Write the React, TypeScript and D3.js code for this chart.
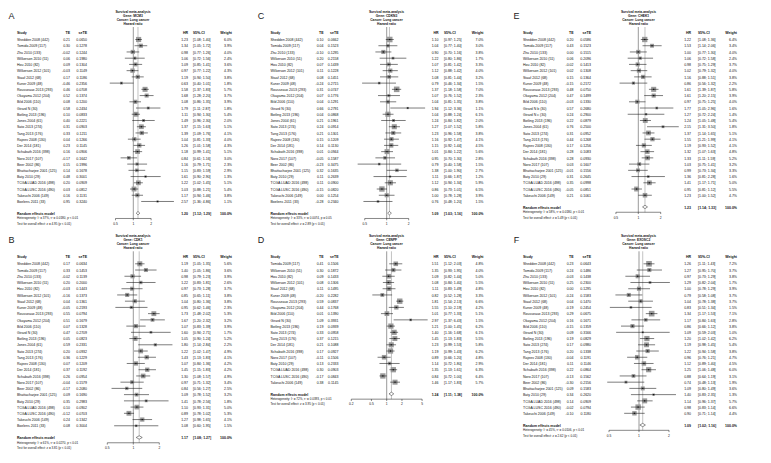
import React from "react";
import * as d3 from "d3";

// ---------- DATA ----------
const studiesABC = ["Shedden 2008 (442)", "Tomida 2009 (117)", "Zhu 2010 (133)", "Wilkerson 2010 (51)", "Hou 2010 (82)", "Wilkerson 2012 (101)", "Staaf 2012 (68)", "Kuner 2009 (48)", "Rousseaux 2013 (293)", "Okayama 2012 (204)", "Bild 2006 (110)", "Girard N (30)", "Botling 2013 (196)", "Jones 2004 (61)", "Sato 2013 (274)", "Tang 2013 (176)", "Rajeev 2008 (130)", "Der 2014 (181)", "Schabath 2016 (398)", "Noro 2017 (107)", "Beer 2002 (86)", "Bhattacharjee 2001 (125)", "Baty 2010 (29)", "TCGA LUAD 2016 (498)", "TCGA LUSC 2016 (490)", "Takeuchi 2006 (149)", "Boelens 2011 (33)"];

const teA = [0.21, 0.30, -0.02, 0.06, 0.09, -0.03, 0.17, -0.46, 0.46, 0.52, 0.08, 0.58, 0.10, 0.40, 0.31, 0.33, 0.04, 0.23, 0.16, -0.17, 0.15, 0.14, 0.48, 0.20, 0.03, 0.16, 0.95];
const seA = [0.0650, 0.1278, 0.1244, 0.1980, 0.1304, 0.1149, 0.1186, 0.2356, 0.0708, 0.1374, 0.1200, 0.2434, 0.0833, 0.2221, 0.0903, 0.1211, 0.1266, 0.1145, 0.0906, 0.1642, 0.1996, 0.1678, 0.3001, 0.0909, 0.0812, 0.1131, 0.3240];
const hrA = [1.23, 1.34, 0.98, 1.06, 1.09, 0.97, 1.19, 0.63, 1.58, 1.68, 1.08, 1.79, 1.11, 1.49, 1.37, 1.39, 1.04, 1.26, 1.18, 0.84, 1.16, 1.15, 1.61, 1.22, 1.03, 1.17, 2.57];
const loA = [1.08, 1.05, 0.77, 0.72, 0.85, 0.77, 0.94, 0.40, 1.37, 1.28, 0.86, 1.11, 0.94, 0.96, 1.15, 1.09, 0.81, 1.01, 0.99, 0.61, 0.79, 0.83, 0.90, 1.02, 0.88, 0.94, 1.36];
const hiA = [1.40, 1.72, 1.26, 1.56, 1.41, 1.22, 1.50, 1.01, 1.83, 2.20, 1.35, 2.87, 1.30, 2.30, 1.63, 1.76, 1.33, 1.58, 1.41, 1.16, 1.71, 1.59, 2.90, 1.45, 1.21, 1.46, 4.86];
const wA = [6.0, 3.9, 4.0, 2.4, 3.6, 4.3, 3.8, 1.8, 5.7, 3.7, 3.9, 1.8, 5.4, 2.0, 5.1, 4.1, 4.0, 4.3, 5.1, 3.0, 2.3, 2.9, 1.3, 5.1, 5.4, 3.8, 1.1];

const teB = [0.17, 0.33, -0.02, 0.20, -0.03, -0.16, 0.04, -0.05, 0.55, 0.51, 0.07, 0.47, 0.05, 0.59, 0.20, 0.36, 0.07, 0.37, 0.26, -0.04, -0.17, 0.09, 0.35, 0.10, -0.12, 0.24, 0.08];
const seB = [0.0634, 0.1453, 0.1139, 0.2000, 0.1443, 0.1373, 0.1361, 0.2193, 0.0794, 0.1679, 0.1328, 0.2709, 0.0823, 0.2331, 0.0932, 0.1229, 0.1209, 0.1192, 0.0954, 0.1579, 0.2080, 0.1690, 0.2983, 0.0902, 0.0703, 0.1342, 0.3004];
const hrB = [1.19, 1.40, 0.98, 1.22, 0.97, 0.85, 1.04, 0.95, 1.73, 1.67, 1.07, 1.60, 1.05, 1.80, 1.22, 1.43, 1.07, 1.45, 1.30, 0.97, 0.84, 1.09, 1.41, 1.10, 0.89, 1.27, 1.08];
const loB = [1.05, 1.05, 0.79, 0.83, 0.73, 0.65, 0.80, 0.62, 1.48, 1.20, 0.83, 0.94, 0.90, 1.14, 1.02, 1.13, 0.84, 1.15, 1.08, 0.71, 0.56, 0.78, 0.78, 0.93, 0.78, 0.98, 0.60];
const hiB = [1.35, 1.86, 1.23, 1.81, 1.28, 1.11, 1.36, 1.46, 2.02, 2.32, 1.39, 2.71, 1.24, 2.84, 1.47, 1.83, 1.36, 1.83, 1.57, 1.32, 1.27, 1.52, 2.56, 1.31, 1.02, 1.65, 1.95];
const wB = [5.6, 3.6, 3.9, 2.6, 3.7, 3.8, 3.8, 2.3, 5.3, 3.2, 3.9, 1.7, 5.2, 2.2, 4.9, 4.1, 4.2, 4.2, 4.9, 3.4, 2.5, 3.2, 1.8, 5.0, 5.3, 4.1, 1.5];

const teC = [0.10, 0.04, -0.10, 0.20, 0.07, 0.11, 0.08, -0.24, 0.31, 0.07, 0.04, 0.66, 0.04, 0.21, 0.24, 0.21, 0.15, 0.14, 0.01, -0.05, -0.23, 0.32, 0.11, 0.11, -0.15, 0.00, -0.28];
const seC = [0.0662, 0.1523, 0.1295, 0.2158, 0.1439, 0.1228, 0.1451, 0.2715, 0.0747, 0.1776, 0.1291, 0.2791, 0.0868, 0.1961, 0.0914, 0.1301, 0.1209, 0.1130, 0.0944, 0.1587, 0.3475, 0.1635, 0.2639, 0.0900, 0.0820, 0.1254, 0.2340];
const hrC = [1.10, 1.04, 0.90, 1.22, 1.07, 1.12, 1.08, 0.79, 1.37, 1.07, 1.04, 1.94, 1.04, 1.24, 1.27, 1.23, 1.16, 1.15, 1.01, 0.95, 0.79, 1.38, 1.11, 1.12, 0.86, 1.00, 0.76];
const loC = [0.97, 0.77, 0.70, 0.80, 0.81, 0.88, 0.81, 0.46, 1.18, 0.76, 0.81, 1.12, 0.88, 0.84, 1.07, 0.96, 0.92, 0.92, 0.84, 0.70, 0.40, 1.00, 0.66, 0.94, 0.73, 0.78, 0.48];
const hiC = [1.25, 1.40, 1.16, 1.86, 1.42, 1.42, 1.44, 1.34, 1.58, 1.52, 1.35, 3.36, 1.24, 1.82, 1.52, 1.58, 1.47, 1.44, 1.22, 1.30, 1.58, 1.90, 1.87, 1.34, 1.01, 1.28, 1.20];
const wC = [7.0, 3.0, 3.8, 1.7, 3.3, 4.0, 3.2, 1.5, 7.0, 2.3, 3.8, 1.1, 6.1, 2.0, 5.8, 3.8, 4.1, 4.5, 5.6, 2.8, 1.5, 2.7, 1.2, 5.9, 6.5, 3.9, 1.5];

const studiesD = ["Tomida 2009 (117)", "Wilkerson 2010 (51)", "Hou 2010 (82)", "Wilkerson 2012 (101)", "Staaf 2012 (68)", "Kuner 2009 (48)", "Rousseaux 2013 (293)", "Okayama 2012 (204)", "Bild 2006 (110)", "Girard N (30)", "Botling 2013 (196)", "Sato 2013 (274)", "Tang 2013 (176)", "Der 2014 (181)", "Schabath 2016 (398)", "Noro 2017 (107)", "Baty 2010 (29)", "TCGA LUAD 2016 (498)", "TCGA LUSC 2016 (490)", "Takeuchi 2006 (149)"];
const teD = [0.41, 0.30, 0.09, 0.08, 0.11, -0.20, 0.59, 0.44, 0.01, 1.09, 0.19, 0.33, 0.37, 0.21, 0.17, -0.11, 0.13, 0.30, -0.17, 0.38];
const seD = [0.1506, 0.1872, 0.1433, 0.1306, 0.1495, 0.2282, 0.0837, 0.1768, 0.1390, 0.3931, 0.0939, 0.0958, 0.1215, 0.1088, 0.0927, 0.1506, 0.2333, 0.0903, 0.0843, 0.1145];
const hrD = [1.51, 1.35, 1.09, 1.08, 1.11, 0.82, 1.81, 1.55, 1.01, 2.97, 1.21, 1.40, 1.45, 1.23, 1.19, 0.89, 1.14, 1.35, 0.84, 1.46];
const loD = [1.12, 0.93, 0.82, 0.84, 0.83, 0.52, 1.54, 1.10, 0.77, 1.37, 1.00, 1.16, 1.13, 0.99, 0.99, 0.66, 0.72, 1.13, 0.72, 1.17];
const hiD = [2.03, 1.95, 1.44, 1.40, 1.49, 1.28, 2.13, 2.19, 1.33, 6.43, 1.45, 1.68, 1.83, 1.53, 1.43, 1.20, 1.80, 1.61, 1.00, 1.83];
const wD = [4.8, 4.0, 5.0, 5.5, 4.8, 3.3, 6.6, 4.2, 5.1, 1.5, 6.2, 6.1, 5.5, 5.8, 6.2, 4.8, 2.9, 6.3, 6.4, 5.7];

const studiesE = ["Shedden 2008 (442)", "Tomida 2009 (117)", "Zhu 2010 (133)", "Wilkerson 2010 (51)", "Hou 2010 (82)", "Wilkerson 2012 (101)", "Staaf 2012 (68)", "Kuner 2009 (48)", "Rousseaux 2013 (293)", "Okayama 2012 (204)", "Bild 2006 (110)", "Girard N b (30)", "Girard N c (30)", "Botling 2013 (196)", "Jones 2004 (61)", "Sato 2013 (274)", "Tang 2013 (176)", "Rajeev 2008 (130)", "Der 2014 (181)", "Schabath 2016 (398)", "Noro 2017 (107)", "Bhattacharjee 2001 (125)", "Baty 2010 (29)", "TCGA LUAD 2016 (498)", "TCGA LUSC 2016 (490)", "Takeuchi 2006 (149)"];
const teE = [0.20, 0.43, 0.00, 0.06, -0.02, 0.02, 0.15, -0.15, 0.48, 0.47, -0.03, 0.57, 0.24, 0.22, 0.76, 0.31, 0.44, 0.17, 0.28, 0.28, 0.03, -0.01, 0.31, 0.35, -0.05, 0.21];
const seE = [0.0586, 0.1523, 0.1515, 0.2096, 0.1413, 0.1308, 0.1364, 0.2172, 0.0750, 0.1499, 0.1330, 0.2680, 0.2900, 0.0879, 0.2500, 0.0952, 0.1268, 0.1256, 0.1083, 0.0930, 0.1607, 0.1556, 0.2645, 0.0998, 0.0851, 0.1061];
const hrE = [1.22, 1.53, 1.00, 1.06, 0.98, 1.02, 1.16, 0.86, 1.61, 1.61, 0.97, 1.77, 1.27, 1.24, 2.15, 1.37, 1.55, 1.19, 1.32, 1.33, 1.03, 0.99, 1.36, 1.41, 0.95, 1.23];
const loE = [1.08, 1.14, 0.77, 0.72, 0.75, 0.79, 0.88, 0.56, 1.39, 1.20, 0.75, 1.05, 0.72, 1.05, 1.31, 1.14, 1.21, 0.93, 1.07, 1.11, 0.75, 0.73, 0.81, 1.17, 0.81, 1.00];
const hiE = [1.36, 2.06, 1.30, 1.58, 1.29, 1.32, 1.51, 1.32, 1.87, 2.15, 1.25, 2.96, 2.24, 1.48, 3.50, 1.65, 1.99, 1.52, 1.63, 1.59, 1.41, 1.34, 2.28, 1.71, 1.12, 1.52];
const wE = [6.4, 3.4, 4.0, 2.4, 3.7, 4.0, 3.8, 2.2, 5.8, 3.9, 4.0, 1.6, 1.4, 5.4, 1.8, 5.1, 4.1, 4.1, 4.8, 5.2, 3.2, 3.3, 1.6, 5.0, 5.5, 4.7];

const studiesF = ["Shedden 2008 (442)", "Tomida 2009 (117)", "Zhu 2010 (133)", "Wilkerson 2010 (51)", "Hou 2010 (82)", "Wilkerson 2012 (101)", "Staaf 2012 (68)", "Kuner 2009 (48)", "Rousseaux 2013 (293)", "Okayama 2012 (204)", "Bild 2006 (110)", "Girard N (30)", "Botling 2013 (196)", "Sato 2013 (274)", "Tang 2013 (176)", "Rajeev 2008 (130)", "Der 2014 (181)", "Schabath 2016 (398)", "Noro 2017 (107)", "Beer 2002 (86)", "Bhattacharjee 2001 (125)", "Baty 2010 (29)", "TCGA LUAD 2016 (498)", "TCGA LUSC 2016 (490)", "Takeuchi 2006 (149)"];
const teF = [0.23, 0.24, -0.03, 0.25, 0.00, -0.24, 0.04, -0.19, 0.29, 0.16, -0.15, 0.09, 0.19, 0.17, 0.20, -0.04, 0.11, 0.22, -0.13, -0.30, 0.09, 0.34, 0.14, -0.02, -0.10];
const seF = [0.0643, 0.1486, 0.1438, 0.2300, 0.1295, 0.1583, 0.1470, 0.2454, 0.0675, 0.1671, 0.1359, 0.3166, 0.0829, 0.0980, 0.1338, 0.1191, 0.1146, 0.0864, 0.1562, 0.2156, 0.1583, 0.2620, 0.0909, 0.0794, 0.1180];
const hrF = [1.26, 1.27, 0.97, 1.29, 1.00, 0.79, 1.04, 0.83, 1.34, 1.17, 0.86, 1.09, 1.20, 1.19, 1.22, 0.96, 1.12, 1.25, 0.88, 0.74, 1.09, 1.40, 1.14, 0.98, 0.90];
const loF = [1.11, 0.95, 0.73, 0.82, 0.78, 0.58, 0.78, 0.51, 1.17, 0.84, 0.66, 0.59, 1.02, 0.98, 0.94, 0.76, 0.89, 1.06, 0.64, 0.48, 0.80, 0.83, 0.96, 0.83, 0.71];
const hiF = [1.43, 1.70, 1.29, 2.04, 1.29, 1.08, 1.38, 1.34, 1.53, 1.63, 1.12, 2.03, 1.42, 1.45, 1.58, 1.21, 1.40, 1.48, 1.19, 1.13, 1.49, 2.35, 1.37, 1.14, 1.14];
const wF = [7.2, 3.7, 3.8, 1.7, 3.9, 3.7, 3.7, 1.5, 7.1, 2.8, 3.8, 1.0, 6.2, 5.4, 3.8, 4.7, 4.5, 6.0, 3.1, 1.9, 3.6, 1.3, 5.7, 6.6, 4.4];

const panelLetters = ["A", "B", "C", "D", "E", "F"];
const genes = ["MCM3", "CDK1", "CDKN3", "CENPF", "CHEK1", "EXOSC2"];
const summaryHR = [1.20, 1.17, 1.09, 1.24, 1.23, 1.09];
const summaryLo = [1.12, 1.08, 1.03, 1.11, 1.14, 1.02];
const summaryHi = [1.29, 1.27, 1.16, 1.38, 1.33, 1.16];
const hetI2 = ["37%", "61%", "33%", "72%", "58%", "45%"];
const hetTau2 = ["0.0180", "0.0270", "0.0074", "0.0393", "0.0180", "0.0106"];
const hetP = ["p < 0.01", "p < 0.01", "p = 0.05", "p < 0.01", "p < 0.01", "p < 0.01"];
const testZ = ["4.95", "3.81", "2.89", "3.95", "5.49", "2.62"];
const axisTicks = [[0.5, 1, 2], [0.5, 1, 2], [0.5, 1, 2], [0.2, 0.5, 1, 2, 5], [0.5, 1, 2], [0.5, 1, 2]];
const headers = ["Study", "TE", "seTE", "HR", "95%-CI", "Weight"];

// ---------- LAYOUT ----------
const colLayout = [
  { letterX: 11.5, study: 17, te: 70, se: 87, hr: 188, ci: 193, w: 232, titleX: 133 },
  { letterX: 261, study: 270.5, te: 323.5, se: 338.5, hr: 438.5, ci: 444, w: 483.5, titleX: 386.5 },
  { letterX: 516.5, study: 523, te: 573.5, se: 591, hr: 691, ci: 698, w: 737, titleX: 638.5 },
];
const panelGeom = [
  { col: 0, row: 0, x1: 133.3, ppl: 25.7 },
  { col: 0, row: 1, x1: 133.3, ppl: 37.5 },
  { col: 1, row: 0, x1: 386.7, ppl: 31.7 },
  { col: 1, row: 1, x1: 386.7, ppl: 22 },
  { col: 2, row: 0, x1: 638.3, ppl: 32.3 },
  { col: 2, row: 1, x1: 639, ppl: 43.3 },
];
const ROW_OFF = 224.3;
const ROW_H = 6.23;
const FONT = "'Liberation Sans', Arial, sans-serif";
const FS = 4.3;
const SX = 0.82;

const panelData = [
  { studies: studiesABC, te: teA, se: seA, hr: hrA, lo: loA, hi: hiA, w: wA },
  { studies: studiesABC, te: teB, se: seB, hr: hrB, lo: loB, hi: hiB, w: wB },
  { studies: studiesABC, te: teC, se: seC, hr: hrC, lo: loC, hi: hiC, w: wC },
  { studies: studiesD, te: teD, se: seD, hr: hrD, lo: loD, hi: hiD, w: wD },
  { studies: studiesE, te: teE, se: seE, hr: hrE, lo: loE, hi: hiE, w: wE },
  { studies: studiesF, te: teF, se: seF, hr: hrF, lo: loF, hi: hiF, w: wF },
];

const fmt = (v: number, d: number) => (v < 0 ? "-" : "") + Math.abs(v).toFixed(d);

function T({ x, y, a = "start", s = FS, b = false, children }: any) {
  return (
    <text
      transform={`translate(${x},${y}) scale(${SX},1)`}
      textAnchor={a}
      dominantBaseline="central"
      fontSize={s}
      fontWeight={b ? 700 : 400}
    >
      {children}
    </text>
  );
}

function Panel({ i }: { i: number }) {
  const g = panelGeom[i];
  const c = colLayout[g.col];
  const d = panelData[i];
  const oy = g.row * ROW_OFF;
  const ticks = axisTicks[i];
  const t0 = ticks[0];
  const tN = ticks[ticks.length - 1];
  const x = d3
    .scaleLog()
    .domain([t0, tN])
    .range([g.x1 + g.ppl * Math.log(t0), g.x1 + g.ppl * Math.log(tN)]);
  const titleTop = 11.8 + oy;
  const headerY = 32 + oy;
  const rowTop = 39.5 + oy;
  const n = d.studies.length;
  const randY = rowTop + (n - 1) * ROW_H + 11.7;
  const axisY = randY + 5.3;
  const refTop = 27 + oy;
  const title = ["Survival meta-analysis", `Gene: ${genes[i]}`, "Cancer: Lung cancer", "Hazard ratio"];
  const colsX = [c.study, c.te, c.se, c.hr, c.ci, c.w];
  const anchors = ["start", "end", "end", "end", "start", "end"];
  const sx = x(summaryHR[i]);
  return (
    <g fontFamily={FONT} fill="#111">
      <text x={c.letterX} y={16 + oy} fontSize={9} textAnchor="middle" dominantBaseline="central" fill="#222">
        {panelLetters[i]}
      </text>
      {title.map((t, k) => (
        <T key={k} x={c.titleX} y={titleTop + k * 4} s={4.0} b a="middle">
          {t}
        </T>
      ))}
      {headers.map((h, k) => (
        <T key={h} x={colsX[k]} y={headerY} b a={anchors[k]}>
          {h}
        </T>
      ))}
      {/* reference lines */}
      <line x1={x(1)} x2={x(1)} y1={refTop} y2={axisY} stroke="#555" strokeWidth={0.6} />
      <line x1={sx} x2={sx} y1={refTop} y2={axisY} stroke="#bbb" strokeWidth={0.9} />
      {d.studies.map((s, k) => {
        const y = rowTop + k * ROW_H;
        const side = Math.sqrt(d.w[k]) * 2.1;
        const px = x(d.hr[k]);
        return (
          <g key={k}>
            <T x={c.study} y={y}>{s}</T>
            <T x={c.te} y={y} a="end">{fmt(d.te[k], 2)}</T>
            <T x={c.se} y={y} a="end">{d.se[k].toFixed(4)}</T>
            <T x={c.hr} y={y} a="end">{d.hr[k].toFixed(2)}</T>
            <T x={c.ci} y={y}>{`[${d.lo[k].toFixed(2)}; ${d.hi[k].toFixed(2)}]`}</T>
            <T x={c.w} y={y} a="end">{d.w[k].toFixed(1) + "%"}</T>
            <rect x={px - side / 2} y={y - side / 2} width={side} height={side} fill="#9a9a9a" />
            <line x1={x(d.lo[k])} x2={x(d.hi[k])} y1={y} y2={y} stroke="#111" strokeWidth={0.55} />
            <rect x={px - 0.6} y={y - 0.6} width={1.2} height={1.2} fill="#111" />
          </g>
        );
      })}
      {/* random effects */}
      <T x={c.study} y={randY} b>Random effects model</T>
      <T x={c.hr} y={randY} b a="end">{summaryHR[i].toFixed(2)}</T>
      <T x={c.ci} y={randY} b>{`[${summaryLo[i].toFixed(2)}; ${summaryHi[i].toFixed(2)}]`}</T>
      <T x={c.w} y={randY} b a="end">100.0%</T>
      <polygon
        points={`${x(summaryLo[i])},${randY} ${sx},${randY - 1.7} ${x(summaryHi[i])},${randY} ${sx},${randY + 1.7}`}
        fill="#fff"
        stroke="#222"
        strokeWidth={0.5}
      />
      <T x={c.study} y={randY + 5.2} s={3.7}>
        {`Heterogeneity: I² = ${hetI2[i]}, τ² = ${hetTau2[i]}, ${hetP[i]}`}
      </T>
      <T x={c.study} y={randY + 10.5} s={3.7}>
        {`Test for overall effect: z = ${testZ[i]} (p < 0.01)`}
      </T>
      {/* axis */}
      <line x1={x(t0)} x2={x(tN)} y1={axisY} y2={axisY} stroke="#111" strokeWidth={0.5} />
      {ticks.map((t) => (
        <g key={t}>
          <line x1={x(t)} x2={x(t)} y1={axisY} y2={axisY + 1.8} stroke="#111" strokeWidth={0.5} />
          <T x={x(t)} y={axisY + 5.2} s={4.0} a="middle">{String(t)}</T>
        </g>
      ))}
    </g>
  );
}

export default function App() {
  return (
    <svg width={771} height={463} style={{ position: "absolute", left: 0, top: 0, background: "#fff" }}>
      <rect width={771} height={463} fill="#fff" />
      {panelGeom.map((_, i) => (
        <Panel key={i} i={i} />
      ))}
    </svg>
  );
}
